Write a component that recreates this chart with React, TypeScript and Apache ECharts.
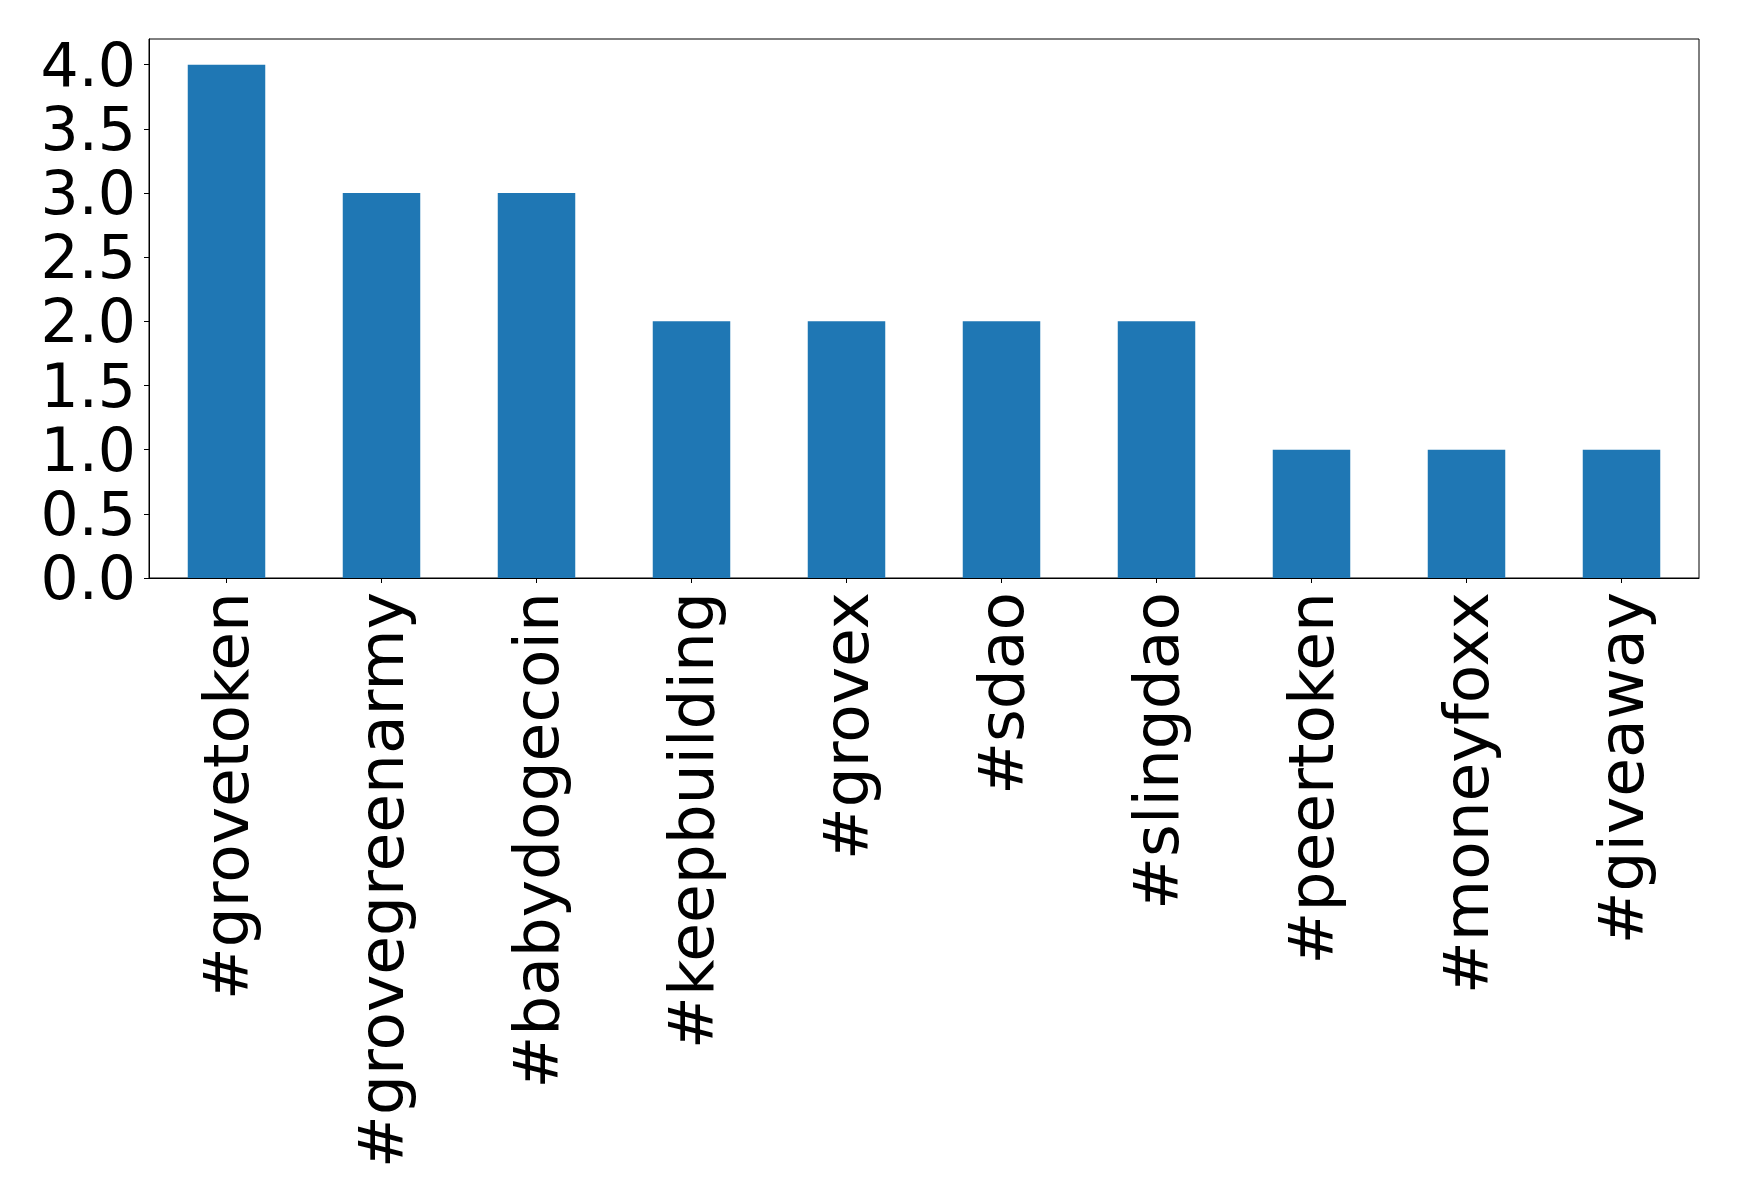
import React, { useEffect, useRef } from "react";
import * as echarts from "echarts";

const categories = [
  "#grovetoken",
  "#grovegreenarmy",
  "#babydogecoin",
  "#keepbuilding",
  "#grovex",
  "#sdao",
  "#slingdao",
  "#peertoken",
  "#moneyfoxx",
  "#giveaway",
];
const counts = [4, 3, 3, 2, 2, 2, 2, 1, 1, 1];
const yTicks = [0, 0.5, 1.0, 1.5, 2.0, 2.5, 3.0, 3.5, 4.0];

export default function App() {
  const ref = useRef<HTMLDivElement>(null);
  useEffect(() => {
    if (!ref.current) return;
    const chart = echarts.init(ref.current, undefined, { renderer: "svg" });
    const font = "DejaVu Sans";
    chart.setOption({
      animation: false,
      backgroundColor: "#ffffff",
      grid: {
        left: 149,
        top: 39,
        right: 40,
        bottom: 621,
        containLabel: false,
        show: true,
        borderColor: "#000000",
        borderWidth: 1,
        backgroundColor: "transparent",
      },
      xAxis: {
        type: "category",
        data: categories,
        boundaryGap: true,
        axisLine: { show: true, lineStyle: { color: "#000000", width: 1 } },
        axisTick: {
          show: true,
          alignWithLabel: true,
          length: 5,
          lineStyle: { color: "#000000", width: 1 },
        },
        axisLabel: {
          rotate: 90,
          interval: 0,
          margin: 14,
          fontSize: 63,
          fontFamily: font,
          color: "#000000",
        },
        splitLine: { show: false },
      },
      yAxis: {
        type: "value",
        min: 0,
        max: 4.2,
        interval: 0.5,
        axisLine: { show: true, lineStyle: { color: "#000000", width: 1 } },
        axisTick: {
          show: true,
          length: 5,
          lineStyle: { color: "#000000", width: 1 },
          customValues: yTicks,
        },
        axisLabel: {
          margin: 13,
          fontSize: 60,
          lineHeight: 60,
          fontFamily: font,
          color: "#000000",
          customValues: yTicks,
          formatter: (v: number) => (v > 4.01 ? "" : v.toFixed(1)),
        },
        splitLine: { show: false },
      },
      series: [
        {
          type: "bar",
          data: counts,
          barWidth: "50%",
          itemStyle: { color: "#1f77b4" },
        },
      ],
    });
    return () => chart.dispose();
  }, []);
  return (
    <div
      ref={ref}
      style={{ position: "fixed", left: 0, top: 0, width: 1739, height: 1199, background: "#fff" }}
    />
  );
}
